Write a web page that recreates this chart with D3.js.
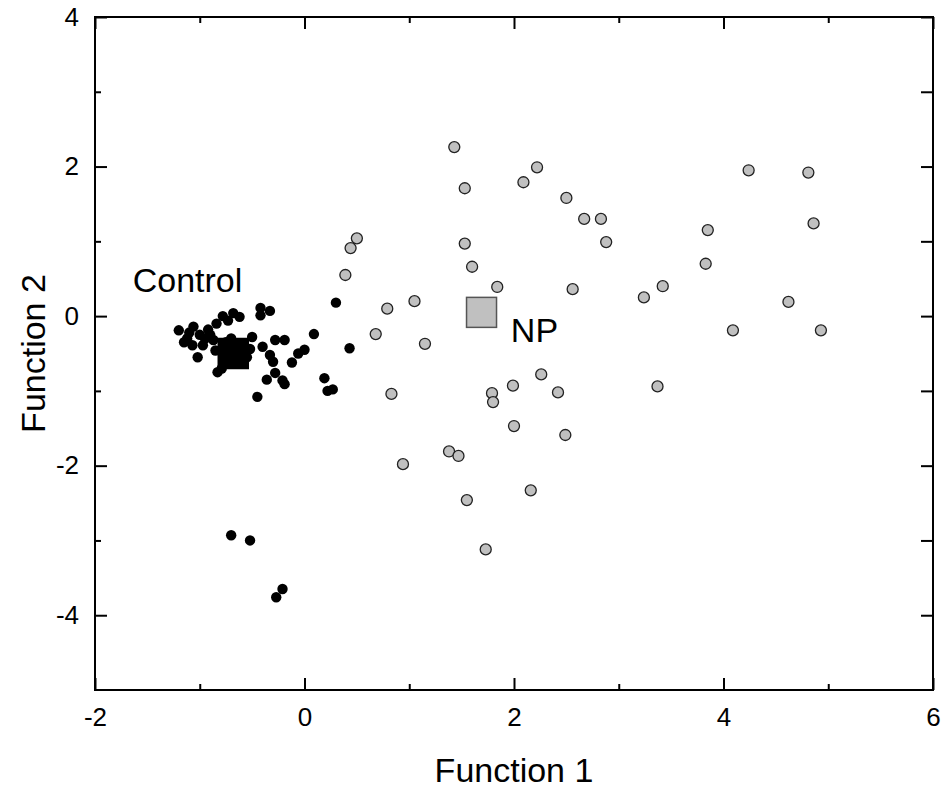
<!DOCTYPE html>
<html>
<head>
<meta charset="utf-8">
<script src="https://cdn.jsdelivr.net/npm/d3@7"></script>
<style>
  body { margin: 0; background: #fff; }
  text { font-family: "Liberation Sans", Arial, sans-serif; fill: #000; }
</style>
</head>
<body>
<div id="chart"></div>
<script>
// discriminant scores, Control group
const controlPoints = [
  [-1.20, -0.19], [-1.06, -0.14], [-1.12, -0.30], [-1.07, -0.39], [-1.00, -0.25],
  [-0.97, -0.39], [-0.87, -0.32], [-1.02, -0.55], [-0.85, -0.46], [-0.92, -0.18],
  [-0.84, -0.10], [-0.78, 0.00], [-0.73, -0.06], [-0.68, 0.04], [-0.62, -0.01],
  [-0.83, -0.75], [-0.79, -0.70], [-0.42, 0.11], [-0.42, 0.01], [-0.33, 0.07],
  [-0.50, -0.28], [-0.52, -0.44], [-0.40, -0.41], [-0.33, -0.52], [-0.30, -0.61],
  [-0.28, -0.32], [-0.19, -0.32], [-0.36, -0.85], [-0.28, -0.76], [-0.21, -0.86],
  [-0.19, -0.91], [-0.45, -1.08], [-0.12, -0.62], [-0.06, -0.50], [0.00, -0.45],
  [0.09, -0.24], [0.19, -0.83], [0.22, -1.00], [0.27, -0.98], [0.30, 0.18],
  [0.43, -0.43], [-0.75, -0.35], [-0.60, -0.40], [-0.65, -0.60], [-0.90, -0.25],
  [-1.10, -0.22], [-0.95, -0.30], [-1.15, -0.35], [-0.55, -0.55], [-0.70, -0.30],
  [-0.70, -2.93], [-0.52, -3.00], [-0.21, -3.65], [-0.27, -3.76]
]

// discriminant scores, NP group
const npPoints = [
  [1.43, 2.26], [1.53, 1.71], [2.22, 1.99], [2.09, 1.79], [2.50, 1.58],
  [2.67, 1.30], [2.83, 1.30], [2.88, 0.99], [0.50, 1.04], [0.44, 0.91],
  [0.39, 0.55], [1.53, 0.97], [1.60, 0.66], [1.84, 0.39], [2.56, 0.36],
  [0.79, 0.10], [1.05, 0.20], [0.68, -0.24], [1.15, -0.37], [2.26, -0.78],
  [0.83, -1.04], [1.79, -1.03], [1.80, -1.15], [1.99, -0.93], [2.42, -1.02],
  [2.00, -1.47], [2.49, -1.59], [1.38, -1.81], [1.47, -1.87], [0.94, -1.98],
  [2.16, -2.33], [1.55, -2.46], [1.73, -3.12], [4.24, 1.95], [4.81, 1.92],
  [3.85, 1.15], [4.86, 1.24], [3.83, 0.70], [3.42, 0.40], [3.24, 0.25],
  [4.62, 0.19], [4.09, -0.19], [4.93, -0.19], [3.37, -0.94]
]

// group centroids
const centroids = [
  { group: 'Control', x: -0.68, y: -0.50 },
  { group: 'NP', x: 1.69, y: 0.05 }
]

const xMajor = [-2, 0, 2, 4, 6]
const xMinor = [-1, 1, 3, 5]
const yMajor = [-4, -2, 0, 2, 4]
const yMinor = [-3, -1, 1, 3]

const width = 948, height = 792
const margin = { top: 17, right: 15, bottom: 102, left: 95 }
const innerW = width - margin.left - margin.right
const innerH = height - margin.top - margin.bottom

const svg = d3.select('#chart').append('svg')
    .attr('width', width)
    .attr('height', height)

const g = svg.append('g')
    .attr('transform', 'translate(' + margin.left + ',' + margin.top + ')')

const x = d3.scaleLinear().domain([-2, 6]).range([0, innerW])
const y = d3.scaleLinear().domain([-5, 4]).range([innerH, 0])

const fontSize = 26
const plain = d => String(d)  // keep the hyphen-minus of the original

function styleAxis(sel) {
  sel.select('.domain').remove()
  sel.selectAll('line').attr('stroke', '#000').attr('stroke-width', 2)
  sel.selectAll('text')
      .style('font-family', '"Liberation Sans", Arial, sans-serif')
      .style('font-size', fontSize + 'px')
      .attr('fill', '#000')
}

// bottom
g.append('g').attr('transform', 'translate(0,' + innerH + ')')
    .call(d3.axisBottom(x).tickValues(xMajor).tickSize(-12).tickPadding(18).tickFormat(plain))
    .call(styleAxis)
g.append('g').attr('transform', 'translate(0,' + innerH + ')')
    .call(d3.axisBottom(x).tickValues(xMinor).tickSize(-6).tickFormat(''))
    .call(styleAxis)
// top
g.append('g')
    .call(d3.axisTop(x).tickValues(xMajor).tickSize(-12).tickFormat(''))
    .call(styleAxis)
g.append('g')
    .call(d3.axisTop(x).tickValues(xMinor).tickSize(-6).tickFormat(''))
    .call(styleAxis)
// left
g.append('g')
    .call(d3.axisLeft(y).tickValues(yMajor).tickSize(-12).tickPadding(16).tickFormat(plain))
    .call(styleAxis)
g.append('g')
    .call(d3.axisLeft(y).tickValues(yMinor).tickSize(-6).tickFormat(''))
    .call(styleAxis)
// right
g.append('g').attr('transform', 'translate(' + innerW + ',0)')
    .call(d3.axisRight(y).tickValues(yMajor.concat(yMinor)).tickSize(-12).tickFormat(''))
    .call(styleAxis)

// frame
g.append('rect')
    .attr('width', innerW)
    .attr('height', innerH)
    .attr('fill', 'none')
    .attr('stroke', '#000')
    .attr('stroke-width', 2)

// points
g.append('g').selectAll('circle')
    .data(npPoints)
  .enter().append('circle')
    .attr('cx', d => x(d[0]))
    .attr('cy', d => y(d[1]))
    .attr('r', 5.5)
    .attr('fill', '#c0c0c0')
    .attr('stroke', '#222')
    .attr('stroke-width', 1.3)

g.append('g').selectAll('circle')
    .data(controlPoints)
  .enter().append('circle')
    .attr('cx', d => x(d[0]))
    .attr('cy', d => y(d[1]))
    .attr('r', 5.2)
    .attr('fill', '#000')

// centroids
const sq = 30
g.append('g').selectAll('rect')
    .data(centroids)
  .enter().append('rect')
    .attr('x', d => x(d.x) - sq / 2)
    .attr('y', d => y(d.y) - sq / 2)
    .attr('width', sq)
    .attr('height', sq)
    .attr('fill', d => d.group === 'Control' ? '#000' : '#c0c0c0')
    .attr('stroke', d => d.group === 'Control' ? '#000' : '#555')
    .attr('stroke-width', 1.5)

// group labels
g.append('text')
    .attr('x', x(-1.64))
    .attr('y', y(0.32))
    .style('font-size', '34px')
    .text('Control')
g.append('text')
    .attr('x', x(1.97))
    .attr('y', y(-0.35))
    .style('font-size', '34px')
    .text('NP')

// axis titles
svg.append('text')
    .attr('x', margin.left + innerW / 2)
    .attr('y', 782)
    .attr('text-anchor', 'middle')
    .style('font-size', '34px')
    .text('Function 1')
svg.append('text')
    .attr('transform', 'translate(45,' + (margin.top + innerH / 2) + ')rotate(-90)')
    .attr('text-anchor', 'middle')
    .style('font-size', '34px')
    .text('Function 2')
</script>
</body>
</html>
